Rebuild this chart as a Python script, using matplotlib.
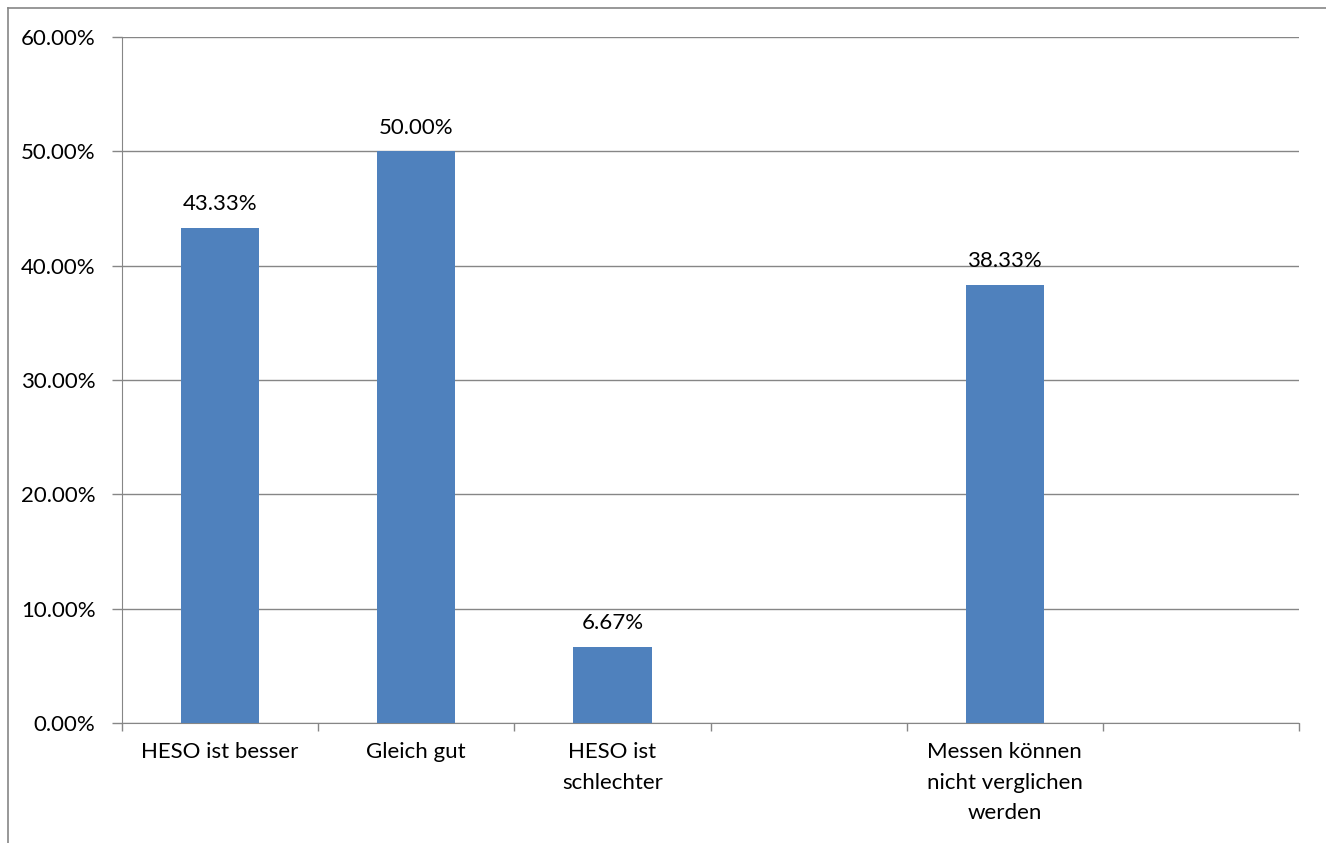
import numpy as np
import matplotlib.pyplot as plt
from matplotlib.lines import Line2D

categories = ["HESO ist besser", "Gleich gut", "HESO ist\nschlechter", "",
              "Messen können\nnicht verglichen\nwerden", ""]
values = [43.33, 50.00, 6.67, np.nan, 38.33, np.nan]
yticks = [0, 10, 20, 30, 40, 50, 60]

plt.rcParams['font.family'] = ['Lato', 'DejaVu Sans']
plt.rcParams['font.size'] = 16

W, H = 1326, 843
fig = plt.figure(figsize=(W / 100, H / 100), dpi=100)
ax = fig.add_axes([122 / W, 1 - 723 / H, (1299 - 122) / W, (723 - 37) / H])

grey = '#868686'
x = np.arange(len(categories))
ax.bar(x, values, width=0.4, color='#4F81BD', zorder=3)
for xi, v in zip(x, values):
    if not np.isnan(v):
        ax.text(xi, v + 1.2, f"{v:.2f}%", ha='center', va='bottom', color='black')

ax.set_xlim(-0.5, len(categories) - 0.5)
ax.set_ylim(0, 60)
ax.set_yticks(yticks)
ax.set_yticklabels([f"{t:.2f}%" for t in yticks])
ax.yaxis.grid(True, color=grey, linewidth=1, zorder=0)

ax.set_xticks(x)
ax.set_xticklabels(categories, linespacing=1.65)
ax.tick_params(axis='x', length=0, pad=14)
ax.set_xticks(np.arange(len(categories) + 1) - 0.5, minor=True)
ax.tick_params(axis='x', which='minor', length=6, color=grey, width=1)
ax.tick_params(axis='y', length=7, color=grey, width=1, pad=12)

for s in ['top', 'right']:
    ax.spines[s].set_visible(False)
for s in ['left', 'bottom']:
    ax.spines[s].set_color(grey)

fig.add_artist(Line2D([7.5 / W, 7.5 / W], [0, 1 - 8 / H], color=grey, linewidth=1.2, transform=fig.transFigure))
fig.add_artist(Line2D([7.5 / W, 1], [1 - 8 / H, 1 - 8 / H], color=grey, linewidth=1.2, transform=fig.transFigure))

fig.savefig('out.png', dpi=100)
